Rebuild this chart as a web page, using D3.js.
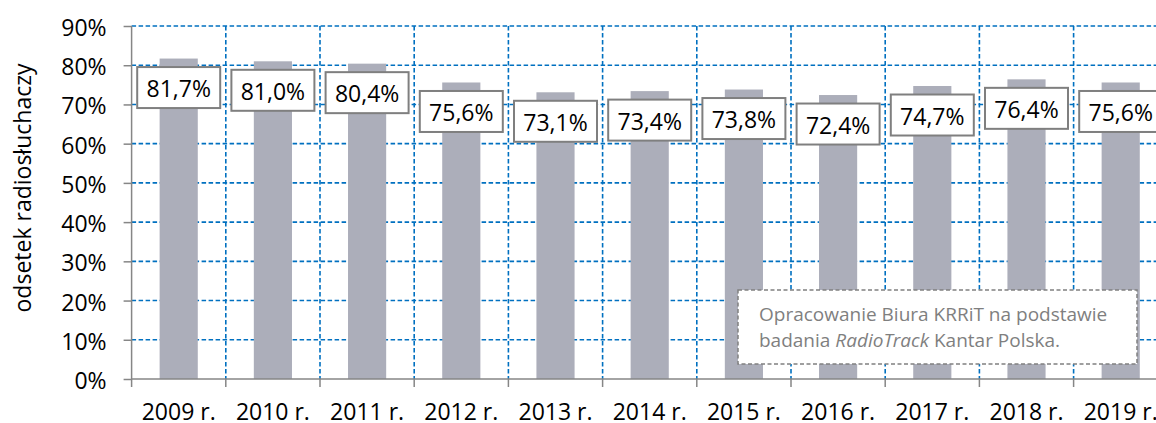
<!DOCTYPE html>
<html><head><meta charset="utf-8">
<script src="https://cdn.jsdelivr.net/npm/d3@7"></script>
<style>html,body{margin:0;padding:0;background:#fff;overflow:hidden}svg{display:block}</style>
</head><body>
<script>
const categories = ["2009 r.","2010 r.","2011 r.","2012 r.","2013 r.","2014 r.","2015 r.","2016 r.","2017 r.","2018 r.","2019 r."];
const values = [81.7, 81.0, 80.4, 75.6, 73.1, 73.4, 73.8, 72.4, 74.7, 76.4, 75.6];
const yTicks = [0,10,20,30,40,50,60,70,80,90];
const yTitle = "odsetek radiosłuchaczy";
const noteLine1 = "Opracowanie Biura KRRiT na podstawie";
const noteLine2 = ["badania ", "RadioTrack", " Kantar Polska."];

const W = 1156, H = 423;
const font = "'Open Sans', sans-serif";
const svg = d3.select("body").append("svg").attr("width", W).attr("height", H);

const x0 = 131.6, step = 94.2;
const x = d3.scaleBand().domain(categories).range([x0, x0 + step*categories.length]).padding(0);
const y = d3.scaleLinear().domain([0, 90]).range([379, 26]);
const barW = x.bandwidth()*0.405;

// gridlines
const grid = svg.append("g").attr("stroke", "#0070C0").attr("stroke-width", 1.6).attr("stroke-dasharray", "4.5,2.5");
grid.selectAll("line.h").data(yTicks.filter(d => d > 0)).join("line")
  .attr("x1", x0).attr("x2", W + 20).attr("y1", d => y(d)).attr("y2", d => y(d));
grid.selectAll("line.v").data(categories.slice(1)).join("line")
  .attr("x1", d => x(d)).attr("x2", d => x(d)).attr("y1", y(90)).attr("y2", y(0));

// bars
svg.append("g").selectAll("rect").data(values).join("rect")
  .attr("x", (d,i) => x(categories[i]) + x.bandwidth()/2 - barW/2)
  .attr("width", barW)
  .attr("y", d => y(d)).attr("height", d => y(0) - y(d))
  .attr("fill", "#ACAEBA");

// y axis
const yAxis = svg.append("g").attr("transform", `translate(${x0},0)`)
  .call(d3.axisLeft(y).tickValues(yTicks).tickSize(8).tickPadding(17).tickFormat(d => d + "%"));
yAxis.select(".domain").attr("stroke", "#868686").attr("stroke-width", 1.5).attr("d", `M0,${y(90)}V${y(0)}`);
yAxis.selectAll(".tick line").attr("stroke", "#868686").attr("stroke-width", 1.5);
yAxis.selectAll(".tick text").attr("font-family", font).attr("font-size", 23).attr("fill", "#000").attr("dy", "9.5px");

// x axis
const xAxis = svg.append("g").attr("transform", `translate(0,${y(0)})`)
  .call(d3.axisBottom(x).tickSize(0).tickPadding(0));
xAxis.select(".domain").attr("stroke", "#868686").attr("stroke-width", 1.5).attr("d", `M${x0},0H${W+20}`);
xAxis.selectAll(".tick text").attr("font-family", font).attr("font-size", 23).attr("fill", "#000").attr("y", 41).attr("dy", 0);
xAxis.selectAll("line.b").data(categories).join("line")
  .attr("x1", d => x(d)).attr("x2", d => x(d)).attr("y1", 0).attr("y2", 8)
  .attr("stroke", "#868686").attr("stroke-width", 1.5);

// value labels
const lab = svg.append("g").selectAll("g").data(values).join("g")
  .attr("transform", (d,i) => `translate(${x(categories[i]) + x.bandwidth()/2},${y(d) + 29})`);
lab.append("rect").attr("x", -41.5).attr("y", -20.5).attr("width", 83).attr("height", 41)
  .attr("fill", "#fff").attr("stroke", "#7F7F7F").attr("stroke-width", 2);
lab.append("text").attr("text-anchor", "middle").attr("y", 9.5)
  .attr("font-family", font).attr("font-size", 23).attr("fill", "#000")
  .text(d => d.toFixed(1).replace(".", ",") + "%");

// y title
svg.append("text").attr("transform", "translate(31,188) rotate(-90)")
  .attr("text-anchor", "middle").attr("font-family", font).attr("font-size", 23).attr("fill", "#000")
  .text(yTitle);

// note box
const note = svg.append("g");
note.append("rect").attr("x", 738).attr("y", 290).attr("width", 399).attr("height", 74)
  .attr("fill", "#fff").attr("stroke", "#808080").attr("stroke-width", 1.5).attr("stroke-dasharray", "4,2.5");
note.append("text").attr("x", 759).attr("y", 320.5).attr("font-family", font).attr("font-size", 19).attr("fill", "#7F7F7F").text(noteLine1);
const t2 = note.append("text").attr("x", 759).attr("y", 346.5).attr("font-family", font).attr("font-size", 19).attr("fill", "#7F7F7F");
t2.selectAll("tspan").data(noteLine2).join("tspan").attr("font-style", (d,i) => i === 1 ? "italic" : "normal").text(d => d);
</script>
</body></html>
